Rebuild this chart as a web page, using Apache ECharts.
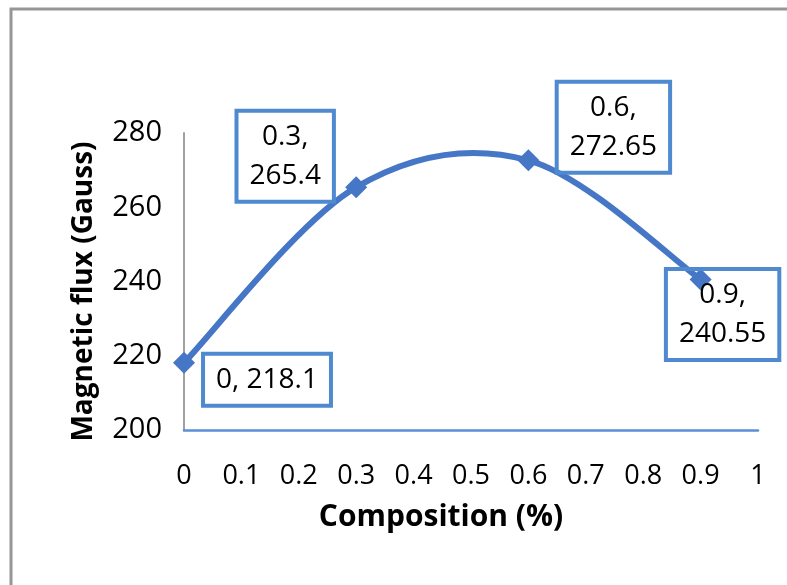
<!DOCTYPE html>
<html>
<head>
<meta charset="utf-8">
<script src="https://cdn.jsdelivr.net/npm/echarts@6/dist/echarts.min.js"></script>
<style>
  html, body { margin: 0; padding: 0; background: #ffffff; }
  #chart { width: 787px; height: 585px; }
</style>
</head>
<body>
<div id="chart"></div>
<script>
// Composition (%) vs. magnetic flux (Gauss)
const composition = [0, 0.3, 0.6, 0.9];
const magneticFlux = [218.1, 265.4, 272.65, 240.55];

// Axis tick labels
const xTickLabels = ['0', '0.1', '0.2', '0.3', '0.4', '0.5', '0.6', '0.7', '0.8', '0.9', '1'];
const yTickLabels = ['200', '220', '240', '260', '280'];

// Where each data label box sits relative to its point (pixels)
const labelOffsets = [[83, 17], [-71, -31], [85, -33], [22, 35]];

const FONT = '"Open Sans", "Noto Sans", sans-serif';
const LINE_COLOR = '#4676C6';

const points = composition.map((x, i) => [x, magneticFlux[i]]);

const markerData = points.map((p, i) => ({
  value: p,
  label: {
    offset: labelOffsets[i],
    formatter: i === 0
      ? composition[i] + ', ' + magneticFlux[i]
      : composition[i] + ',\n' + magneticFlux[i]
  }
}));

// Smoothed curve through the points (Catmull-Rom style cubic Bezier segments),
// built from pixel coordinates given by the chart's own axes.
function renderCurve(params, api) {
  if (params.dataIndex !== 0) return null;
  const px = points.map(p => api.coord(p));
  const n = px.length;
  const at = k => px[Math.max(0, Math.min(n - 1, k))];
  let d = 'M' + px[0][0] + ' ' + px[0][1];
  for (let i = 0; i < n - 1; i++) {
    const p0 = at(i - 1), p1 = at(i), p2 = at(i + 1), p3 = at(i + 2);
    const c1 = [p1[0] + (p2[0] - p0[0]) / 6, p1[1] + (p2[1] - p0[1]) / 6];
    const c2 = [p2[0] - (p3[0] - p1[0]) / 6, p2[1] - (p3[1] - p1[1]) / 6];
    d += ' C' + c1[0] + ' ' + c1[1] + ' ' + c2[0] + ' ' + c2[1] + ' ' + p2[0] + ' ' + p2[1];
  }
  return {
    type: 'path',
    shape: { pathData: d },
    style: { fill: 'none', stroke: LINE_COLOR, lineWidth: 6, lineJoin: 'round', lineCap: 'round' }
  };
}

const chart = echarts.init(document.getElementById('chart'), null, { renderer: 'canvas' });

chart.setOption({
  backgroundColor: '#ffffff',
  animation: false,
  graphic: [{
    type: 'rect',
    shape: { x: 11, y: 9, width: 1000, height: 1000 },
    style: { fill: 'none', stroke: '#969696', lineWidth: 3 },
    silent: true,
    z: 0
  }],
  grid: { left: 184, right: 29, top: 133, bottom: 155, containLabel: false },
  xAxis: {
    type: 'value',
    min: 0,
    max: 1,
    interval: 0.1,
    name: 'Composition (%)',
    nameLocation: 'middle',
    nameGap: 72,
    nameTextStyle: {
      fontFamily: FONT, fontSize: 30, fontWeight: 'bold', color: '#000',
      padding: [0, 60, 0, 0]
    },
    axisLine: { show: true, lineStyle: { color: '#5B8FD6', width: 2.5 } },
    axisTick: { show: false },
    splitLine: { show: false },
    axisLabel: {
      fontFamily: FONT, fontSize: 27, color: '#000', margin: 33,
      formatter: v => xTickLabels[Math.round(v * 10)]
    }
  },
  yAxis: {
    type: 'value',
    min: 200,
    max: 280,
    interval: 20,
    name: 'Magnetic flux (Gauss)',
    nameLocation: 'middle',
    nameGap: 86,
    nameTextStyle: {
      fontFamily: FONT, fontSize: 28, fontWeight: 'bold', color: '#000',
      padding: [0, 20, 0, 0]
    },
    axisLine: { show: true, lineStyle: { color: '#A0A0A0', width: 2 } },
    axisTick: { show: false },
    splitLine: { show: false },
    axisLabel: {
      fontFamily: FONT, fontSize: 29, color: '#000', margin: 22,
      formatter: v => yTickLabels[Math.round((v - 200) / 20)]
    }
  },
  series: [
    {
      type: 'custom',
      renderItem: renderCurve,
      data: points,
      encode: { x: 0, y: 1 },
      silent: true,
      z: 2
    },
    {
      type: 'line',
      data: markerData,
      symbol: 'diamond',
      symbolSize: 22,
      lineStyle: { width: 0, opacity: 0 },
      itemStyle: { color: LINE_COLOR },
      label: {
        show: true,
        position: 'inside',
        align: 'center',
        verticalAlign: 'middle',
        fontFamily: FONT,
        fontSize: 28,
        lineHeight: 39,
        color: '#000',
        borderColor: '#4F8AD0',
        borderWidth: 2,
        padding: [7, 13, 6, 13],
        backgroundColor: 'transparent'
      },
      z: 3
    }
  ]
});
</script>
</body>
</html>
